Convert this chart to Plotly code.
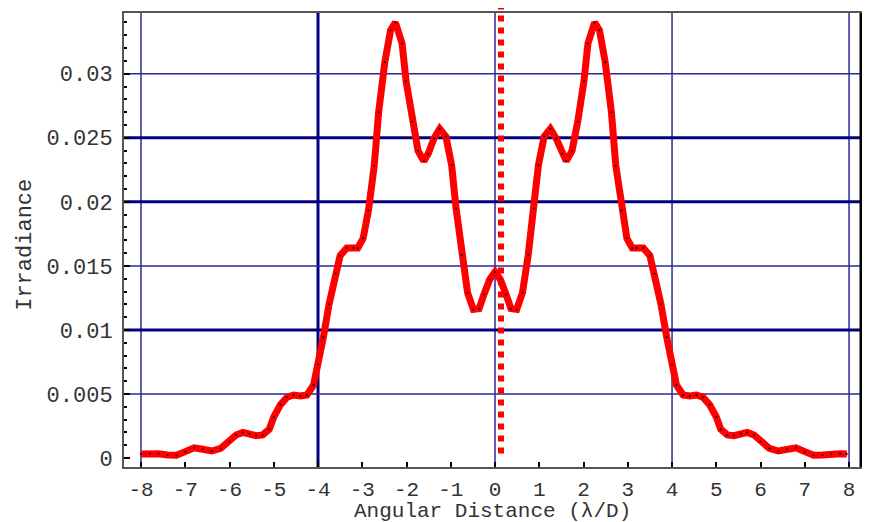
import plotly.graph_objects as go

# Angular distance (lambda/D) and irradiance
x_left = [-8.0, -7.8, -7.6, -7.4, -7.2, -7.0, -6.8, -6.6, -6.4, -6.2, -6.0, -5.85, -5.7, -5.55,
          -5.4, -5.25, -5.1, -5.0, -4.85, -4.7, -4.55, -4.4, -4.25, -4.1, -4.0, -3.88, -3.75,
          -3.6, -3.5, -3.35, -3.2, -3.1, -2.98, -2.86, -2.73, -2.63, -2.49, -2.36, -2.25,
          -2.1, -2.01, -1.87, -1.74, -1.61, -1.51, -1.38, -1.25, -1.11, -0.98, -0.88, -0.75,
          -0.62, -0.49, -0.36, -0.25, -0.12, 0.0]
y_left = [0.00032, 0.00034, 0.00034, 0.00024, 0.00022, 0.00050, 0.00080, 0.00068, 0.00055,
          0.00075, 0.00130, 0.00180, 0.00200, 0.00190, 0.00175, 0.00180, 0.00225, 0.00320,
          0.00415, 0.00475, 0.00492, 0.00485, 0.00492, 0.00570, 0.00730, 0.00943, 0.01200,
          0.01440, 0.01580, 0.01640, 0.01640, 0.01640, 0.01715, 0.01933, 0.02280, 0.02700,
          0.03090, 0.03340, 0.03400, 0.03236, 0.02943, 0.02627, 0.02399, 0.02318, 0.02376,
          0.02495, 0.02570, 0.02510, 0.02285, 0.01948, 0.01585, 0.01290, 0.01160, 0.01166,
          0.01277, 0.01394, 0.01453]
x_right = [0.12, 0.25, 0.36, 0.49, 0.62, 0.75, 0.88, 0.98, 1.11, 1.25, 1.38, 1.51, 1.61, 1.74,
           1.87, 2.01, 2.1, 2.25, 2.36, 2.49, 2.63, 2.73, 2.86, 2.98, 3.1, 3.2, 3.35, 3.5, 3.6,
           3.75, 3.88, 4.0, 4.1, 4.25, 4.4, 4.55, 4.7, 4.85, 5.0, 5.1, 5.25, 5.4, 5.55, 5.7,
           5.85, 6.0, 6.2, 6.4, 6.6, 6.8, 7.0, 7.2, 7.4, 7.6, 7.8, 7.95]
y_right = [0.01394, 0.01277, 0.01166, 0.01160, 0.01290, 0.01585, 0.01948, 0.02285, 0.02510,
           0.02570, 0.02495, 0.02376, 0.02318, 0.02399, 0.02627, 0.02943, 0.03236, 0.03400,
           0.03340, 0.03090, 0.02700, 0.02280, 0.01933, 0.01715, 0.01640, 0.01640, 0.01640,
           0.01580, 0.01440, 0.01200, 0.00943, 0.00730, 0.00570, 0.00492, 0.00485, 0.00492,
           0.00475, 0.00415, 0.00320, 0.00225, 0.00180, 0.00175, 0.00190, 0.00200, 0.00180,
           0.00130, 0.00075, 0.00055, 0.00068, 0.00080, 0.00050, 0.00022, 0.00024, 0.00034,
           0.00034, 0.00032]

x_ticks = list(range(-8, 9))
y_ticks = [0, 0.005, 0.01, 0.015, 0.02, 0.025, 0.03]
y_tick_text = ["0", "0.005", "0.01", "0.015", "0.02", "0.025", "0.03"]
thin_vgrid = [-8, 0, 4, 8]
thick_vgrid = [-4]
thin_hgrid = [0.005, 0.015, 0.03]
thick_hgrid = [0.01, 0.02, 0.025]
marker_x = 0.135
x_title = "Angular Distance (λ/D)"
y_title = "Irradiance"

xs = x_left + x_right
ys = y_left + y_right

FONT = "Liberation Mono, Courier New, monospace"
TXT = "#333333"
FS = 22

fig = go.Figure()
fig.add_trace(go.Scatter(
    x=xs, y=ys, mode="lines+markers",
    line=dict(color="#ff0000", width=7),
    marker=dict(color="black", size=2),
    showlegend=False, hoverinfo="skip"))

shapes = []
for v in thin_vgrid:
    shapes.append(dict(type="line", xref="x", yref="paper", x0=v, x1=v, y0=0, y1=1,
                       line=dict(color="#2a2a96", width=1.5), layer="below"))
for v in thick_vgrid:
    shapes.append(dict(type="line", xref="x", yref="paper", x0=v, x1=v, y0=0, y1=1,
                       line=dict(color="#000080", width=3), layer="below"))
for v in thin_hgrid:
    shapes.append(dict(type="line", xref="paper", yref="y", x0=0, x1=1, y0=v, y1=v,
                       line=dict(color="#2a2a96", width=1.5), layer="below"))
for v in thick_hgrid:
    shapes.append(dict(type="line", xref="paper", yref="y", x0=0, x1=1, y0=v, y1=v,
                       line=dict(color="#000080", width=3), layer="below"))
# dotted red marker line extending above the frame
shapes.append(dict(type="line", xref="x", yref="paper", x0=marker_x, x1=marker_x,
                   y0=0.03, y1=1.03, line=dict(color="#ff0000", width=6, dash="6px,6px"),
                   layer="above"))
# heavy right border
shapes.append(dict(type="line", xref="paper", yref="paper", x0=1, x1=1, y0=0, y1=1,
                   line=dict(color="black", width=3), layer="above"))

annotations = [
    dict(text=x_title, xref="paper", yref="paper", x=0.5, y=-0.097,
         xanchor="center", yanchor="middle", showarrow=False,
         font=dict(family=FONT, size=21, color=TXT)),
    dict(text=y_title, xref="paper", yref="paper", x=-0.134, y=0.49, textangle=-90,
         xanchor="center", yanchor="middle", showarrow=False,
         font=dict(family=FONT, size=FS, color=TXT)),
]

fig.update_layout(
    width=862, height=514,
    margin=dict(l=116, r=9, t=3, b=55),
    paper_bgcolor="white", plot_bgcolor="white",
    font=dict(family=FONT, size=FS, color=TXT),
    shapes=shapes,
    annotations=annotations,
    xaxis=dict(
        range=[-8.384, 8.27], tickmode="array", tickvals=x_ticks,
        ticktext=[str(t) for t in x_ticks],
        ticks="inside", ticklen=5, tickwidth=2, tickcolor="black",
        ticklabelstandoff=2,
        showgrid=False, zeroline=False,
        showline=True, linecolor="#555555", linewidth=2, mirror=True,
        tickfont=dict(family=FONT, size=21, color=TXT),
    ),
    yaxis=dict(
        range=[-0.0007, 0.03474], tickmode="array", tickvals=y_ticks, ticktext=y_tick_text,
        ticks="inside", ticklen=6, tickwidth=2, tickcolor="black",
        ticklabelstandoff=5,
        minor=dict(dtick=0.001, ticks="inside", ticklen=3, tickwidth=2, tickcolor="black",
                   showgrid=False),
        showgrid=False, zeroline=False,
        showline=True, linecolor="#555555", linewidth=2, mirror=True,
        tickfont=dict(family=FONT, size=FS, color=TXT),
    ),
)

fig.write_html("out.html")
